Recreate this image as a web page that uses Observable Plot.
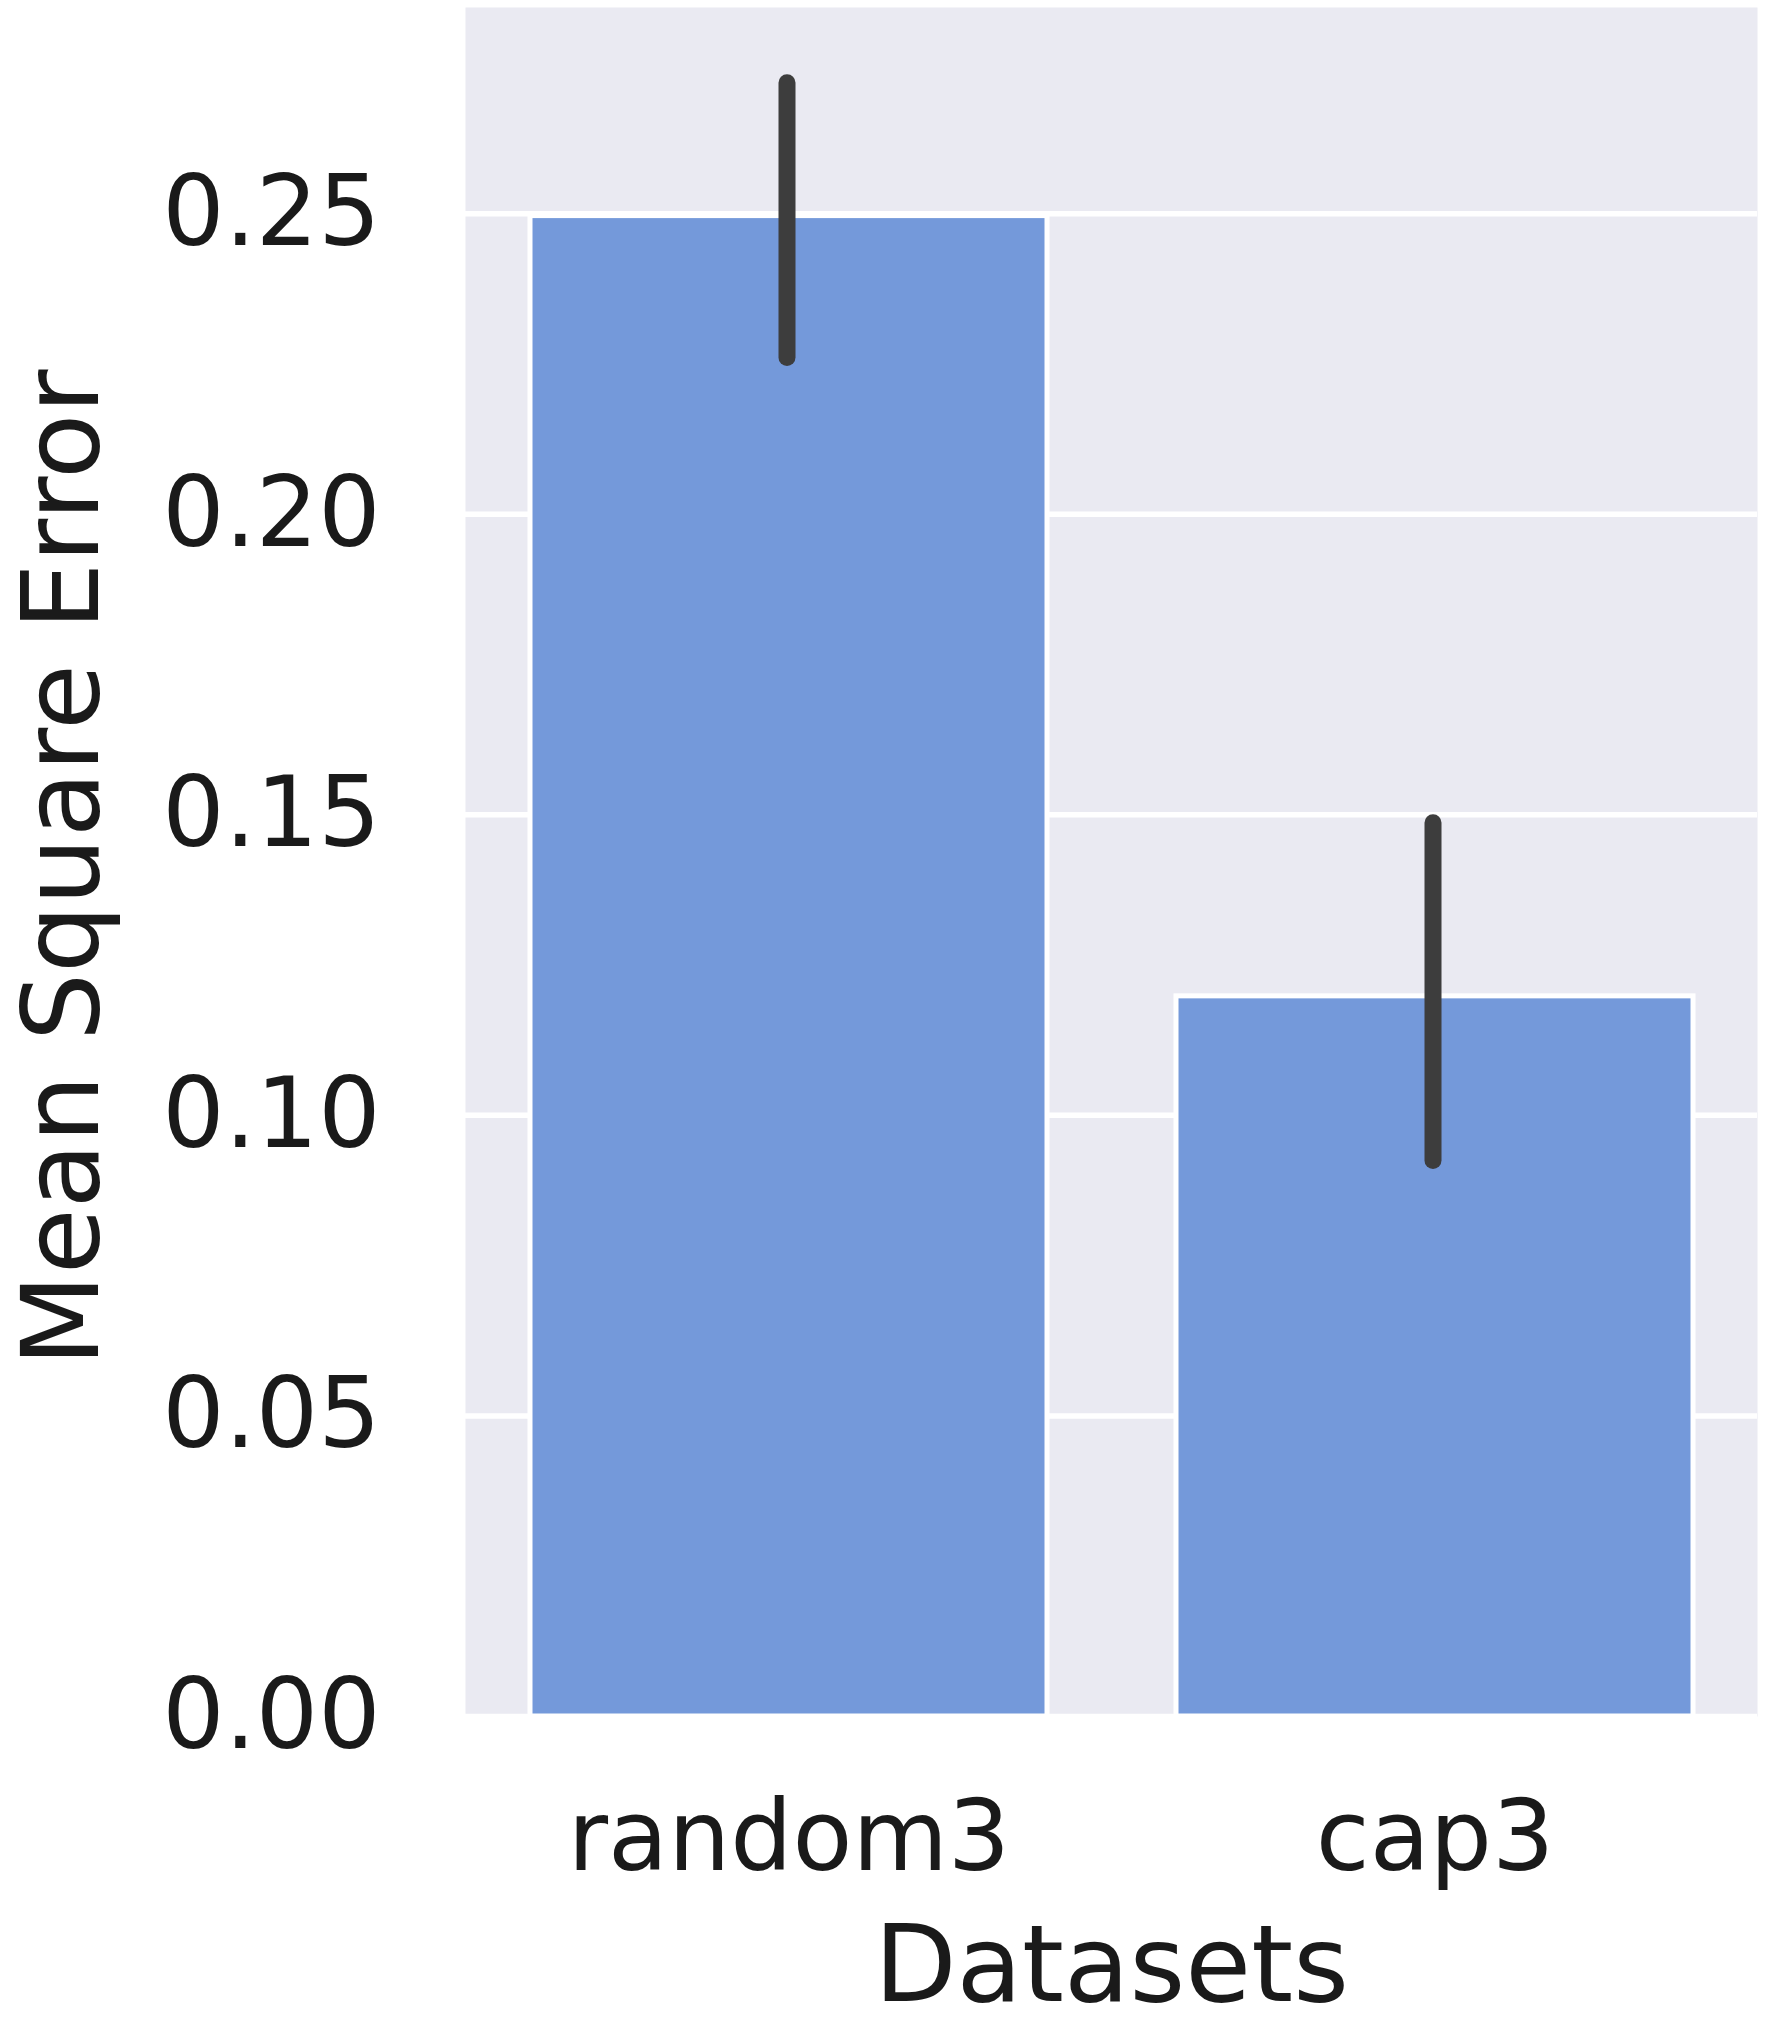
<!DOCTYPE html>
<html><head><meta charset="utf-8">
<script src="https://cdn.jsdelivr.net/npm/d3@7"></script>
<script src="https://cdn.jsdelivr.net/npm/@observablehq/plot@0.6"></script>
<style>html,body{margin:0;padding:0;background:#fff}</style>
</head><body><div id="chart"></div>
<script>
const categories = ["random3", "cap3"];
const mse = [0.2496, 0.1198];
const ciLow = [0.2260, 0.0924];
const ciHigh = [0.2717, 0.1486];
const yTicks = [0, 0.05, 0.10, 0.15, 0.20, 0.25];
const xLabel = "Datasets";
const yLabel = "Mean Square Error";

const data = categories.map((c, i) => ({dataset: c, mse: mse[i], lo: ciLow[i], hi: ciHigh[i]}));

const chart = Plot.plot({
  width: 1770,
  height: 2022,
  marginLeft: 465,
  marginRight: 13,
  marginTop: 7,
  marginBottom: 306,
  style: {fontFamily: "DejaVu Sans", fontSize: "98px", color: "#1a1a1a", background: "white", overflow: "visible"},
  x: {domain: categories, paddingInner: 0.2, paddingOuter: 0.1, label: null},
  y: {domain: [0, 0.2843], label: null},
  marks: [
    Plot.frame({fill: "#eaeaf2", stroke: null}),
    Plot.gridY(yTicks, {stroke: "white", strokeOpacity: 1, strokeWidth: 5.5}),
    Plot.barY(data, {x: "dataset", y: "mse", fill: "#7499da", stroke: "white", strokeWidth: 5}),
    Plot.ruleX(data, {x: "dataset", y1: "lo", y2: "hi", stroke: "#3d3d3d", strokeWidth: 17, strokeLinecap: "round", dx: -2}),
    Plot.axisY(yTicks, {tickSize: 0, tickPadding: 85, tickFormat: d3.format(".2f"), label: null, fontSize: 98}),
    Plot.axisX({tickSize: 0, tickPadding: 84, label: null, fontSize: 98}),
    Plot.text([xLabel], {text: d => d, frameAnchor: "bottom", textAnchor: "middle", lineAnchor: "bottom", dy: 284, fontSize: 107}),
    Plot.text([yLabel], {text: d => d, frameAnchor: "left", textAnchor: "middle", rotate: -90, lineAnchor: "bottom", dx: -368, dy: 6, fontSize: 107})
  ]
});
document.getElementById("chart").appendChild(chart);
</script>
</body></html>
